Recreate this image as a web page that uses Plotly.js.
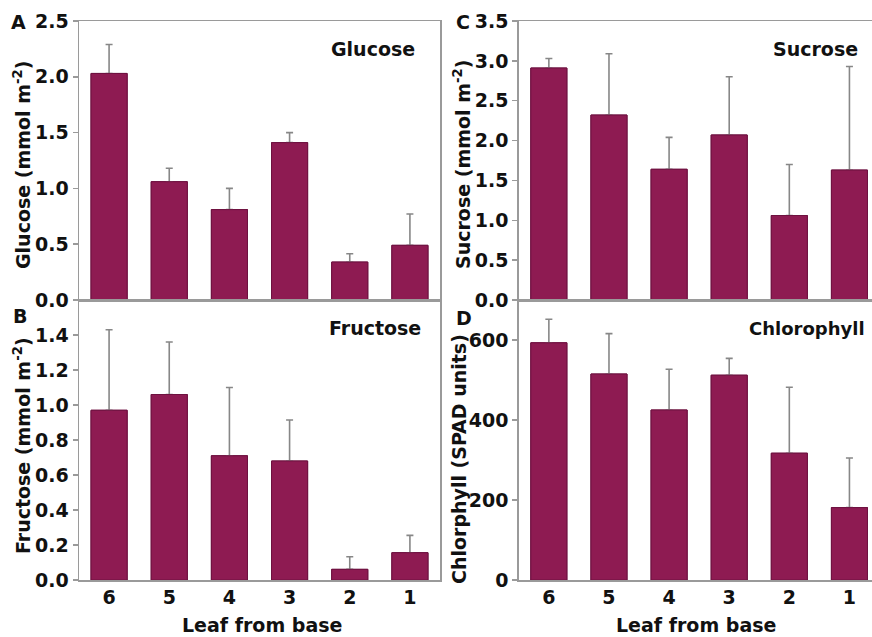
<!DOCTYPE html>
<html>
<head>
<meta charset="utf-8">
<script src="https://cdn.plot.ly/plotly-3.0.1.min.js"></script>
<style>
html, body { margin: 0; padding: 0; overflow: hidden; background: #fff; }
#chart { width: 880px; height: 637px; }
</style>
</head>
<body>
<div id="chart"></div>
<script>
// ---- data ----
var leaves = ['6', '5', '4', '3', '2', '1'];
var glucose = [2.03, 1.06, 0.81, 1.41, 0.34, 0.49];
var glucoseErr = [0.26, 0.12, 0.19, 0.09, 0.075, 0.28];
var fructose = [0.97, 1.06, 0.71, 0.68, 0.061, 0.156];
var fructoseErr = [0.46, 0.30, 0.39, 0.234, 0.072, 0.099];
var sucrose = [2.91, 2.32, 1.64, 2.07, 1.06, 1.63];
var sucroseErr = [0.12, 0.77, 0.40, 0.73, 0.64, 1.30];
var chlorophyll = [593, 515, 425, 512, 317, 181];
var chlorophyllErr = [59, 101, 102, 42, 165, 124];

var W = 880, H = 637;
var FONT = '"DejaVu Sans", "Liberation Sans", Arial, sans-serif';
var barColor = '#8E1B52';
var errColor = '#878787';
var frameColor = '#9a9a9a';

function px(x) { return x / W; }
function py(y) { return 1 - y / H; }

function barTrace(vals, errs, xa, ya) {
  return {
    type: 'bar', x: leaves, y: vals, xaxis: xa, yaxis: ya,
    marker: { color: barColor, line: { color: '#6e1240', width: 1 } },
    error_y: { type: 'data', symmetric: false, array: errs,
               arrayminus: vals.map(function () { return 0; }),
               color: errColor, thickness: 1.6, width: 3.5 },
    showlegend: false, hoverinfo: 'x+y'
  };
}
// same bars again, without error bars, to hide the error-bar foot on the bar top
function coverTrace(vals, xa, ya) {
  return {
    type: 'bar', x: leaves, y: vals, xaxis: xa, yaxis: ya,
    marker: { color: barColor, line: { color: '#6e1240', width: 1 } },
    showlegend: false, hoverinfo: 'skip'
  };
}

var data = [
  barTrace(glucose, glucoseErr, 'x', 'y'), coverTrace(glucose, 'x', 'y'),
  barTrace(fructose, fructoseErr, 'x2', 'y2'), coverTrace(fructose, 'x2', 'y2'),
  barTrace(sucrose, sucroseErr, 'x3', 'y3'), coverTrace(sucrose, 'x3', 'y3'),
  barTrace(chlorophyll, chlorophyllErr, 'x4', 'y4'), coverTrace(chlorophyll, 'x4', 'y4')
];

var tickFont = { family: FONT, size: 19, color: '#111', weight: 'bold' };

function xAxis(dom, anchor, showLabels) {
  return {
    domain: dom, anchor: anchor, type: 'category', range: [-0.5, 5.5],
    showline: true, linecolor: frameColor, linewidth: 1.5, mirror: true,
    ticks: '', showticklabels: showLabels, tickfont: tickFont,
    showgrid: false, zeroline: false, fixedrange: true
  };
}
function yAxis(dom, anchor, range, tickvals, ticktext) {
  return {
    domain: dom, anchor: anchor, range: range,
    tickmode: 'array', tickvals: tickvals, ticktext: ticktext,
    showline: true, linecolor: frameColor, linewidth: 1.5, mirror: true,
    ticks: 'outside', ticklen: 5, tickwidth: 1.5, tickcolor: frameColor,
    tickfont: tickFont, showgrid: false, zeroline: false, fixedrange: true
  };
}

var ticksA = [0, 0.5, 1.0, 1.5, 2.0, 2.5];
var ticksAText = ['0.0', '0.5', '1.0', '1.5', '2.0', '2.5'];
var ticksB = [0, 0.2, 0.4, 0.6, 0.8, 1.0, 1.2, 1.4];
var ticksBText = ['0.0', '0.2', '0.4', '0.6', '0.8', '1.0', '1.2', '1.4'];
var ticksC = [0, 0.5, 1.0, 1.5, 2.0, 2.5, 3.0, 3.5];
var ticksCText = ['0.0', '0.5', '1.0', '1.5', '2.0', '2.5', '3.0', '3.5'];
var ticksD = [0, 200, 400, 600];
var ticksDText = ['0', '200', '400', '600'];

var xA = [px(79), px(440)];
var xC = [px(518.8), px(879.5)];
var yTop = [py(300), py(21)];
var yBot = [py(580), py(300)];

function ann(text, x, y, opts, size) {
  var a = { text: text, x: x, y: y, xref: 'paper', yref: 'paper',
            showarrow: false, font: { family: FONT, size: size || 19, color: '#111', weight: 'bold' },
            xanchor: 'center', yanchor: 'middle' };
  for (var k in (opts || {})) a[k] = opts[k];
  return a;
}

var annotations = [
  ann('A', px(18), py(22)),
  ann('B', px(20), py(316)),
  ann('C', px(463), py(22)),
  ann('D', px(464), py(318)),
  ann('Glucose', px(417), py(49), { xanchor: 'right' }),
  ann('Fructose', px(423), py(328), { xanchor: 'right' }),
  ann('Sucrose', px(860), py(49), { xanchor: 'right' }),
  ann('Chlorophyll', px(867), py(328), { xanchor: 'right' }, 18),
  ann('Glucose (mmol m<sup>-2</sup>)', px(22), py(165), { textangle: -90 }),
  ann('Fructose (mmol m<sup>-2</sup>)', px(22), py(446), { textangle: -90 }),
  ann('Sucrose (mmol m<sup>-2</sup>)', px(462), py(165), { textangle: -90 }),
  ann('Chlorphyll (SPAD units)', px(459), py(459), { textangle: -90 }),
  ann('Leaf from base', px(262), py(625)),
  ann('Leaf from base', px(696), py(625))
];

var layout = {
  width: W, height: H,
  margin: { l: 0, r: 0, t: 0, b: 0 },
  paper_bgcolor: '#fff', plot_bgcolor: '#fff',
  bargap: 0.4, barmode: 'overlay',
  font: { family: FONT, color: '#111' },
  xaxis: xAxis(xA, 'y', false),
  yaxis: yAxis(yTop, 'x', [0, 2.5], ticksA, ticksAText),
  xaxis2: xAxis(xA, 'y2', true),
  yaxis2: yAxis(yBot, 'x2', [0, 1.6], ticksB, ticksBText),
  xaxis3: xAxis(xC, 'y3', false),
  yaxis3: yAxis(yTop, 'x3', [0, 3.5], ticksC, ticksCText),
  xaxis4: xAxis(xC, 'y4', true),
  yaxis4: yAxis(yBot, 'x4', [0, 700], ticksD, ticksDText),
  annotations: annotations
};

Plotly.newPlot('chart', data, layout, { displayModeBar: false, staticPlot: true });
</script>
</body>
</html>
